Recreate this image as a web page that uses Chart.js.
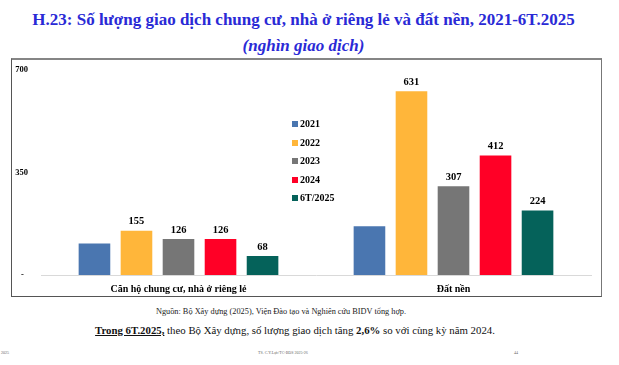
<!DOCTYPE html>
<html>
<head>
<meta charset="utf-8">
<script src="https://cdn.jsdelivr.net/npm/chart.js@4"></script>
<style>
  body { margin: 0; width: 619px; height: 365px; background: #fff; position: relative; overflow: hidden; font-family: "Liberation Serif", serif; }
  #title { position: absolute; left: 0; width: 607px; top: 10px; text-align: center; color: #2a2ad6; font-weight: bold; font-size: 17px; }
  #sub { position: absolute; left: 0; width: 607px; top: 36px; text-align: center; color: #2a2ad6; font-weight: bold; font-style: italic; font-size: 17px; }
  #box { position: absolute; left: 11px; top: 58px; width: 589px; height: 236px; border-top: 2px solid #858585; border-left: 1px solid #555; border-right: 1px solid #777; border-bottom: 1px solid #555; }
  #wrap { position: absolute; left: 12px; top: 60px; width: 589px; height: 235px; }
  #legend { position: absolute; left: 292px; top: 117px; font-weight: bold; font-size: 10px; color: #000; }
  #legend div { height: 18.6px; line-height: 13px; }
  #legend span { display: inline-block; width: 6px; height: 6px; margin-right: 2px; }
  #src { position: absolute; left: 0; width: 562px; top: 307px; text-align: center; font-size: 8.3px; color: #222; }
  #note { position: absolute; left: 0; width: 590px; top: 324px; text-align: center; font-size: 10.8px; color: #111; }
  .tiny { position: absolute; top: 350px; font-size: 4px; color: #666; }
</style>
</head>
<body>
<div id="title">H.23: Số lượng giao dịch chung cư, nhà ở riêng lẻ và đất nền, 2021-6T.2025</div>
<div id="sub">(nghìn giao dịch)</div>
<div id="box"></div>
<div id="wrap"><canvas id="c"></canvas></div>
<div id="legend"></div>
<div id="src">Nguồn: Bộ Xây dựng (2025), Viện Đào tạo và Nghiên cứu BIDV tổng hợp.</div>
<div id="note"><b><u>Trong 6T.2025,</u></b> theo Bộ Xây dựng, số lượng giao dịch tăng <b>2,6%</b> so với cùng kỳ năm 2024.</div>
<div class="tiny" style="left:1px">2025</div>
<div class="tiny" style="left:258px">TS. C.Y.Lực/TC-BĐS 2025-26</div>
<div class="tiny" style="left:514px">44</div>
<script>
const categories = ['Căn hộ chung cư, nhà ở riêng lẻ', 'Đất nền'];
const seriesNames = ['2021', '2022', '2023', '2024', '6T/2025'];
const v2021 = [111, 170];
const v2022 = [155, 631];
const v2023 = [126, 307];
const v2024 = [126, 412];
const v6T2025 = [68, 224];
const yTicks = [0, 350, 700];
const colors = ['#4a76b0', '#ffb63a', '#767676', '#ff0026', '#05625a'];
const showLabel = [false, true, true, true, true];

const allValues = [v2021, v2022, v2023, v2024, v6T2025];

// legend is html, sits in the middle of the plot
const legendEl = document.getElementById('legend');
seriesNames.forEach((n, i) => {
  const d = document.createElement('div');
  d.innerHTML = '<span style="background:' + colors[i] + '"></span>' + n;
  legendEl.appendChild(d);
});

const valueLabels = {
  id: 'valueLabels',
  afterDatasetsDraw(chart) {
    const ctx = chart.ctx;
    ctx.save();
    ctx.font = 'bold 10.5px "Liberation Serif"';
    ctx.fillStyle = '#000';
    ctx.textAlign = 'center';
    ctx.textBaseline = 'bottom';
    chart.data.datasets.forEach((ds, i) => {
      if (!showLabel[i]) return;
      chart.getDatasetMeta(i).data.forEach((bar, j) => {
        ctx.fillText(ds.data[j], bar.x, bar.y - 3);
      });
    });
    ctx.restore();
  }
};

new Chart(document.getElementById('c'), {
  type: 'bar',
  data: {
    labels: categories,
    datasets: seriesNames.map((n, i) => ({
      label: n,
      data: allValues[i],
      backgroundColor: colors[i],
      borderColor: 'rgba(255,255,255,0.6)',
      borderWidth: 1,
      categoryPercentage: 0.764,
      barPercentage: 0.8
    }))
  },
  options: {
    responsive: true,
    maintainAspectRatio: false,
    animation: false,
    layout: { padding: { top: 9, right: 10, left: 0, bottom: 0 } },
    plugins: { legend: { display: false }, tooltip: { enabled: false } },
    scales: {
      x: {
        grid: { display: false },
        border: { display: true, color: '#d9d9d9' },
        ticks: { color: '#000', font: { family: 'Liberation Serif', weight: 'bold', size: 10 }, padding: 0 },
        afterFit(s) { s.height = 20; }
      },
      y: {
        min: 0, max: 700,
        afterBuildTicks(s) { s.ticks = yTicks.map(v => ({ value: v })); },
        grid: { display: false },
        border: { display: false },
        ticks: {
          color: '#000',
          crossAlign: 'near',
          padding: 5,
          font: { family: 'Liberation Serif', weight: 'bold', size: 8.5 },
          callback: v => v === 0 ? '-  ' : v
        },
        afterFit(s) { s.width = 29; }
      }
    }
  },
  plugins: [valueLabels]
});
</script>
</body>
</html>
